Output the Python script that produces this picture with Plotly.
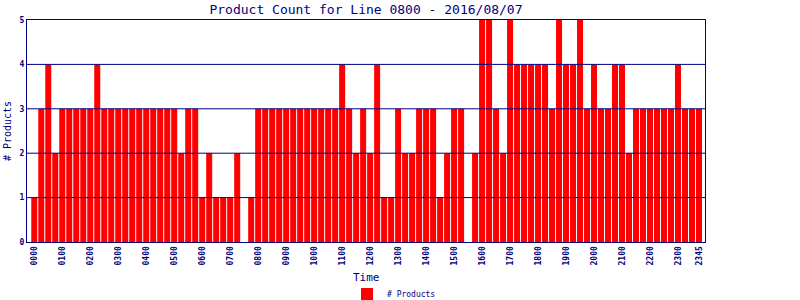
import plotly.graph_objects as go

title_text = "Product Count for Line 0800 - 2016/08/07"
series_name = "# Products"
x_title = "Time"

# 96 quarter-hour slots, 0000 .. 2345
times = [f"{h:02d}{m:02d}" for h in range(24) for m in (0, 15, 30, 45)]
counts = [
    1, 3, 4, 2,  3, 3, 3, 3,  3, 4, 3, 3,  3, 3, 3, 3,   # 00-03
    3, 3, 3, 3,  3, 2, 3, 3,  1, 2, 1, 1,  1, 2, 0, 1,   # 04-07
    3, 3, 3, 3,  3, 3, 3, 3,  3, 3, 3, 3,  4, 3, 2, 3,   # 08-11
    2, 4, 1, 1,  3, 2, 2, 3,  3, 3, 1, 2,  3, 3, 0, 2,   # 12-15
    5, 5, 3, 2,  5, 4, 4, 4,  4, 4, 3, 5,  4, 4, 5, 3,   # 16-19
    4, 3, 3, 4,  4, 2, 3, 3,  3, 3, 3, 3,  4, 3, 3, 3,   # 20-23
]
tick_labels = [t for t in times if t.endswith("00")] + ["2345"]
y_ticks = [0, 1, 2, 3, 4, 5]

NAVY = "#000080"
x_idx = list(range(len(times)))
tick_vals = [times.index(t) for t in tick_labels]

fig = go.Figure()
fig.add_trace(go.Bar(
    x=x_idx, y=counts, name=series_name,
    marker=dict(color="#ff0000", line=dict(width=0)),
    showlegend=True,
))

for yv in y_ticks[1:-1]:
    fig.add_shape(type="line", xref="paper", yref="y", x0=0, x1=1, y0=yv, y1=yv,
                  line=dict(color=NAVY, width=1), layer="above")

fig.add_annotation(text=x_title, xref="paper", yref="paper", x=0.5, y=(242 - 277) / 222,
                   xanchor="center", yanchor="middle", showarrow=False,
                   font=dict(family="DejaVu Sans Mono", size=11, color=NAVY))

fig.update_layout(
    template="none",
    width=800, height=300,
    margin=dict(l=27, r=95, t=20, b=58, autoexpand=False),
    paper_bgcolor="white", plot_bgcolor="white",
    bargap=0.14,
    title=dict(text=title_text, x=(27 + 705) / 2 / 800, xanchor="center",
               y=1 - 9 / 300, yanchor="middle",
               font=dict(family="DejaVu Sans Mono", size=13, color=NAVY)),
    showlegend=True,
    legend=dict(orientation="h", x=(394 - 27) / 678, xanchor="center",
                yref="container", y=6 / 300, yanchor="middle",
                font=dict(family="DejaVu Sans Mono", size=8, color=NAVY),
                itemwidth=30, bgcolor="rgba(0,0,0,0)"),
    font=dict(family="DejaVu Sans Mono", color=NAVY),
)
fig.update_xaxes(
    automargin=False,
    range=[-1.04, 95.86], tickmode="array", tickvals=tick_vals, ticktext=tick_labels,
    tickangle=-90, tickfont=dict(family="DejaVu Sans Mono", size=8, color=NAVY, weight="bold"),
    showgrid=False, showline=True, linecolor=NAVY, linewidth=1, mirror=True,
    ticks="", zeroline=False,
)
fig.update_yaxes(
    automargin=False,
    range=[0, 5], tickmode="array", tickvals=y_ticks,
    tickfont=dict(family="DejaVu Sans Mono", size=8, color=NAVY, weight="bold"),
    showgrid=False, showline=True, linecolor=NAVY, linewidth=1, mirror=True,
    ticks="", zeroline=False,
    title=dict(text=series_name, font=dict(family="DejaVu Sans Mono", size=10, color=NAVY), standoff=6),
)

fig.write_html("out.html")
